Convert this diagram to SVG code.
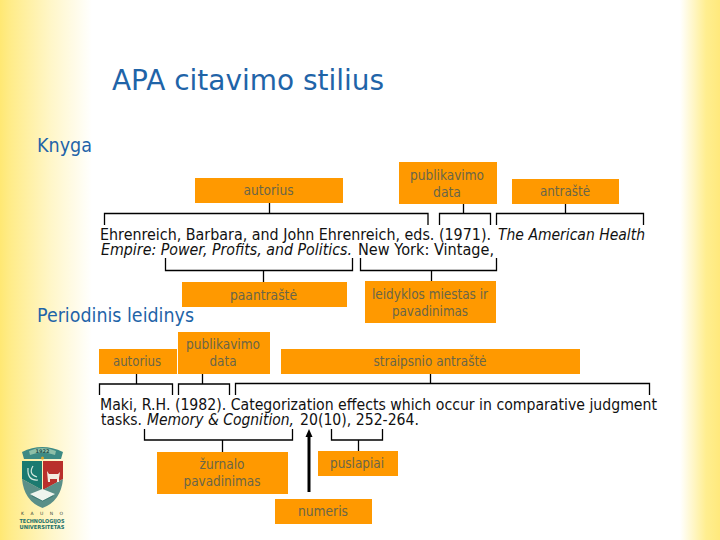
<svg xmlns="http://www.w3.org/2000/svg" width="720" height="540" viewBox="0 0 720 540">
<style>
text{font-family:"DejaVu Sans","Liberation Sans",sans-serif}
.box{fill:#ff9900}
.lbl{font-size:14px;fill:#6a6648;text-anchor:middle}
.cit{font-size:16px;fill:#111}
.it{font-style:italic}
.head{fill:#1f64a8}
.br{fill:none;stroke:#000;stroke-width:1.3}
</style>
<defs>
<linearGradient id="gl" x1="0" x2="1" y1="0" y2="0"><stop offset="0" stop-color="#ffe873"/><stop offset=".12" stop-color="#ffec8a"/><stop offset=".55" stop-color="#fff6c8"/><stop offset="1" stop-color="#fff"/></linearGradient>
<linearGradient id="gr" x1="0" x2="1" y1="0" y2="0"><stop offset="0" stop-color="#fff"/><stop offset=".65" stop-color="#ffee90"/><stop offset="1" stop-color="#ffe97c"/></linearGradient>
</defs>
<rect width="720" height="540" fill="#fff"/>
<rect width="92" height="540" fill="url(#gl)"/>
<rect x="680" width="40" height="540" fill="url(#gr)"/>

<text class="head" x="112" y="90" font-size="29" textLength="272" lengthAdjust="spacingAndGlyphs">APA citavimo stilius</text>
<text class="head" x="37" y="151.500" font-size="20" textLength="55" lengthAdjust="spacingAndGlyphs">Knyga</text>
<text class="head" x="37" y="322" font-size="20" textLength="157" lengthAdjust="spacingAndGlyphs">Periodinis leidinys</text>

<g id="connectors">
<path class="br" d="M104.500 225V213.500H428V225M269.500 203V213.500"/>
<path class="br" d="M439.500 225V213.500H490.500V225M463.500 204V213.500"/>
<path class="br" d="M496.500 225V213.500H643.500V225M565.500 204V213.500"/>
<path class="br" d="M165.500 258V270.500H352.500V258M263.500 270.500V282"/>
<path class="br" d="M360.500 258V270.500H496.500V258M431.500 270.500V281"/>
<path class="br" d="M99.500 395V384H172.500V395M136.500 374V384"/>
<path class="br" d="M178.500 395V384H229.500V395M202.500 374V384"/>
<path class="br" d="M235.500 395V383.500H649.500V395M430.500 374V383.500"/>
<path class="br" d="M144.500 429V440H292.500V429M222.500 440V452"/>
<path class="br" d="M331.500 429V440H382.500V429M358.500 440V451"/>
<path d="M309 492V436" fill="none" stroke="#000" stroke-width="3"/>
<path d="M309 429L312.500 437H305.500z" fill="#000"/>
</g>

<g id="citation-book">
<text class="cit" x="100" y="240" textLength="391" lengthAdjust="spacingAndGlyphs">Ehrenreich, Barbara, and John Ehrenreich, eds. (1971).</text>
<text class="cit it" x="498" y="240" textLength="147" lengthAdjust="spacingAndGlyphs">The American Health</text>
<text class="cit it" x="101" y="255" textLength="251" lengthAdjust="spacingAndGlyphs">Empire: Power, Profits, and Politics.</text>
<text class="cit" x="358" y="255" textLength="136" lengthAdjust="spacingAndGlyphs">New York: Vintage,</text>
</g>
<g id="citation-journal">
<text class="cit" x="100" y="410" textLength="557" lengthAdjust="spacingAndGlyphs">Maki, R.H. (1982). Categorization effects which occur in comparative judgment</text>
<text class="cit" x="101" y="425" textLength="41" lengthAdjust="spacingAndGlyphs">tasks.</text>
<text class="cit it" x="147" y="425" textLength="147" lengthAdjust="spacingAndGlyphs">Memory &amp; Cognition,</text>
<text class="cit" x="300" y="425" textLength="119" lengthAdjust="spacingAndGlyphs">20(10), 252-264.</text>
</g>

<g id="n-autorius1"><rect class="box" x="195" y="178" width="148" height="25"/><text class="lbl" x="268.500" y="195" textLength="50" lengthAdjust="spacingAndGlyphs">autorius</text></g>
<g id="n-publikavimo1"><rect class="box" x="399" y="162" width="98" height="42"/><text class="lbl" x="447" y="180" textLength="74" lengthAdjust="spacingAndGlyphs">publikavimo</text><text class="lbl" x="447" y="197" textLength="28" lengthAdjust="spacingAndGlyphs">data</text></g>
<g id="n-antraste"><rect class="box" x="512" y="179" width="107" height="25"/><text class="lbl" x="565" y="196" textLength="50" lengthAdjust="spacingAndGlyphs">antraštė</text></g>
<g id="n-paantraste"><rect class="box" x="182" y="282" width="165" height="25"/><text class="lbl" x="263.500" y="300" textLength="67" lengthAdjust="spacingAndGlyphs">paantraštė</text></g>
<g id="n-leidyklos"><rect class="box" x="365" y="281" width="131" height="42"/><text class="lbl" x="430" y="299" textLength="116" lengthAdjust="spacingAndGlyphs">leidyklos miestas ir</text><text class="lbl" x="430" y="316" textLength="76" lengthAdjust="spacingAndGlyphs">pavadinimas</text></g>
<g id="n-autorius2"><rect class="box" x="99" y="349" width="78" height="25"/><text class="lbl" x="137" y="366" textLength="48" lengthAdjust="spacingAndGlyphs">autorius</text></g>
<g id="n-publikavimo2"><rect class="box" x="178" y="332" width="92" height="42"/><text class="lbl" x="223" y="349" textLength="74" lengthAdjust="spacingAndGlyphs">publikavimo</text><text class="lbl" x="223" y="366" textLength="27" lengthAdjust="spacingAndGlyphs">data</text></g>
<g id="n-straipsnio"><rect class="box" x="281" y="349" width="299" height="25"/><text class="lbl" x="430" y="366" textLength="113" lengthAdjust="spacingAndGlyphs">straipsnio antraštė</text></g>
<g id="n-zurnalo"><rect class="box" x="157" y="452" width="131" height="42"/><text class="lbl" x="222" y="469" textLength="45" lengthAdjust="spacingAndGlyphs">žurnalo</text><text class="lbl" x="222" y="486" textLength="77" lengthAdjust="spacingAndGlyphs">pavadinimas</text></g>
<g id="n-puslapiai"><rect class="box" x="318" y="451" width="80" height="25"/><text class="lbl" x="357" y="468" textLength="54" lengthAdjust="spacingAndGlyphs">puslapiai</text></g>
<g id="n-numeris"><rect class="box" x="275" y="499" width="97" height="25"/><text class="lbl" x="323" y="516" textLength="50" lengthAdjust="spacingAndGlyphs">numeris</text></g>

<g id="logo">
<path d="M22 452Q42 442 63 452L61 459H24z" fill="#3d8a84"/>
<path d="M29 451Q42 445 56 451L55 455Q42 450 30 455z" fill="#8fbfa8"/>
<text x="42.500" y="453" font-size="5" text-anchor="middle" fill="#24524e" font-weight="bold">1922</text>
<circle cx="42.500" cy="458" r="1.500" fill="#d8a62a"/>
<path d="M22 461H42V490L22 479z" fill="#1b7a70"/>
<path d="M43 461H63V479L43 490z" fill="#b9302c"/>
<path d="M22 479Q24 501 42.500 508Q61 501 63 479L42.500 490z" fill="#5a8f88"/>
<path d="M28 468Q27 481 38 480M33 466Q28 474 37 477" fill="none" stroke="#d5e8de" stroke-width="1.200"/>
<path d="M47 471L49 474H58L60 472L59 478V482H57V479H50V482H48z" fill="#f3ece0"/>
<path d="M30 494L42.500 489L55 494L42.500 501z" fill="#eef4ee"/>
<path d="M32 496L42.500 501L53 496" fill="none" stroke="#2d6d68" stroke-width=".7"/>
<text x="42" y="515" font-size="4.500" text-anchor="middle" fill="#3a4a40" textLength="42" lengthAdjust="spacing">K A U N O</text>
<text x="42" y="522.500" font-size="5.500" font-weight="bold" text-anchor="middle" fill="#22706a" textLength="45" lengthAdjust="spacingAndGlyphs">TECHNOLOGIJOS</text>
<text x="42" y="528.500" font-size="5.500" font-weight="bold" text-anchor="middle" fill="#22706a" textLength="45" lengthAdjust="spacingAndGlyphs">UNIVERSITETAS</text>
</g>
</svg>
